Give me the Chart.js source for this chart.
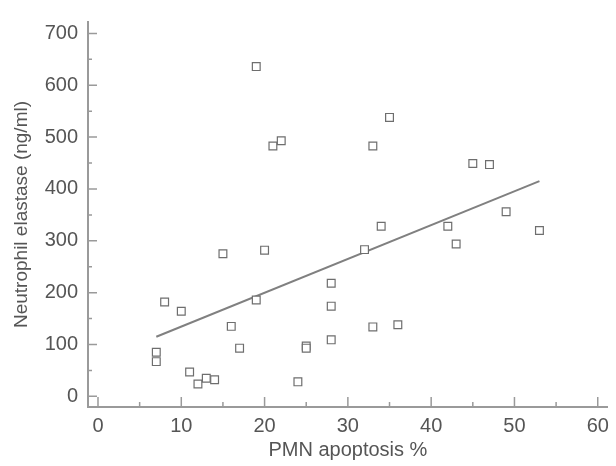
<!DOCTYPE html>
<html>
<head>
<meta charset="utf-8">
<script src="https://cdn.jsdelivr.net/npm/chart.js@4/dist/chart.umd.min.js"></script>
<style>
html,body{margin:0;padding:0;background:#fff;}
#wrap{width:616px;height:466px;}
</style>
</head>
<body>
<div id="wrap"><canvas id="c" width="616" height="466"></canvas></div>
<script>
// PMN apoptosis % (x) and neutrophil elastase ng/ml (y)
const apoptosis = [19, 21, 22, 33, 35, 45, 47, 49, 53, 42, 43, 34, 32, 15, 20, 8, 10, 19, 28, 28, 28, 16, 17, 25, 25, 33, 36, 7, 7, 11, 12, 13, 14, 24];
const elastase  = [636, 483, 493, 483, 538, 449, 447, 356, 320, 328, 294, 328, 283, 275, 282, 182, 164, 186, 218, 174, 109, 135, 93, 97, 93, 134, 138, 85, 67, 47, 24, 35, 32, 28];
// regression line end points
const fitX = [7, 53];
const fitY = [115, 415];
// axis ticks
const xMajor = [0, 10, 20, 30, 40, 50, 60];
const xMinor = [5, 15, 25, 35, 45, 55];
const yMajor = [0, 100, 200, 300, 400, 500, 600, 700];
const yMinor = [50, 150, 250, 350, 450, 550, 650];

const scatterPts = apoptosis.map((x, i) => ({x: x, y: elastase[i]}));
const fitPts = fitX.map((x, i) => ({x: x, y: fitY[i]}));

const AXIS_COLOR = '#9a9a9a';
const TEXT_COLOR = '#555555';
const FONT = 'Liberation Sans, Arial, Helvetica, sans-serif';

const innerTicks = {
  id: 'innerTicks',
  beforeDatasetsDraw(chart) {
    const ctx = chart.ctx;
    const xs = chart.scales.x, ys = chart.scales.y;
    const ca = chart.chartArea;
    ctx.save();
    ctx.strokeStyle = AXIS_COLOR;
    ctx.lineWidth = 1.5;
    ctx.beginPath();
    xMajor.forEach(v => { const p = xs.getPixelForValue(v); ctx.moveTo(p, ca.bottom); ctx.lineTo(p, ca.bottom - 10); });
    xMinor.forEach(v => { const p = xs.getPixelForValue(v); ctx.moveTo(p, ca.bottom); ctx.lineTo(p, ca.bottom - 5); });
    yMajor.forEach(v => { const p = ys.getPixelForValue(v); ctx.moveTo(ca.left, p); ctx.lineTo(ca.left + 9, p); });
    yMinor.forEach(v => { const p = ys.getPixelForValue(v); ctx.moveTo(ca.left, p); ctx.lineTo(ca.left + 4, p); });
    ctx.stroke();
    ctx.restore();
  }
};

new Chart(document.getElementById('c'), {
  type: 'scatter',
  data: {
    datasets: [
      {
        label: 'data',
        data: scatterPts,
        pointStyle: 'rect',
        pointRadius: 5.5,
        pointBorderWidth: 1.2,
        pointBorderColor: '#6e6e6e',
        pointBackgroundColor: '#ffffff',
        showLine: false
      },
      {
        label: 'fit',
        type: 'line',
        data: fitPts,
        borderColor: '#808080',
        borderWidth: 2,
        pointRadius: 0,
        fill: false
      }
    ]
  },
  options: {
    responsive: false,
    animation: false,
    devicePixelRatio: 1,
    layout: {padding: {top: 8, right: 3, left: 0, bottom: 0}},
    plugins: {legend: {display: false}, tooltip: {enabled: false}},
    scales: {
      x: {
        type: 'linear',
        min: -1.2,
        max: 61.2,
        afterBuildTicks: s => { s.ticks = xMajor.map(v => ({value: v})); },
        afterFit: s => { s.height = 59; },
        grid: {display: false, drawTicks: false},
        border: {display: true, color: AXIS_COLOR, width: 2},
        ticks: {color: TEXT_COLOR, font: {family: FONT, size: 20}, padding: 7, maxRotation: 0},
        title: {display: true, text: 'PMN apoptosis %', color: TEXT_COLOR, font: {family: FONT, size: 20}, padding: {top: 0, bottom: 4}}
      },
      y: {
        type: 'linear',
        min: -20.5,
        max: 722,
        afterBuildTicks: s => { s.ticks = yMajor.map(v => ({value: v})); },
        afterFit: s => { s.width = 88; },
        grid: {display: false, drawTicks: false},
        border: {display: true, color: AXIS_COLOR, width: 2},
        ticks: {color: TEXT_COLOR, font: {family: FONT, size: 20}, padding: 10},
        title: {display: true, text: 'Neutrophil elastase (ng/ml)', color: TEXT_COLOR, font: {family: FONT, size: 19}, padding: {top: 10, bottom: 0}}
      }
    }
  },
  plugins: [innerTicks]
});
</script>
</body>
</html>
